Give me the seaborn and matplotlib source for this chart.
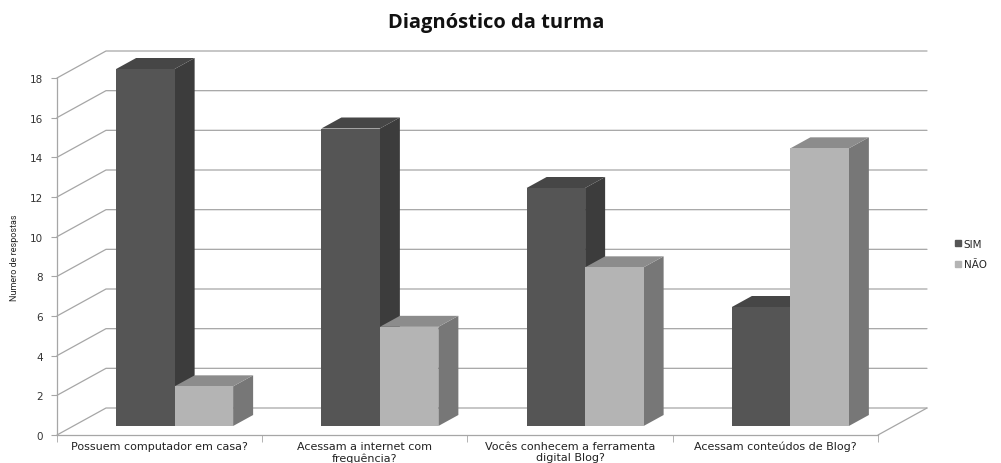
import numpy as np
import pandas as pd
import seaborn as sns
import matplotlib.pyplot as plt
from matplotlib.patches import Polygon
from matplotlib.lines import Line2D

sns.set_style('white')

# data
perguntas = ['Possuem computador em casa?',
             'Acessam a internet com\nfrequência?',
             'Vocês conhecem a ferramenta\ndigital Blog?',
             'Acessam conteúdos de Blog?']
sim = [18, 15, 12, 6]
nao = [2, 5, 8, 14]
yticks = [0, 2, 4, 6, 8, 10, 12, 14, 16, 18]

df = pd.DataFrame({
    'pergunta': perguntas * 2,
    'valor': sim + nao,
    'resposta': ['SIM'] * 4 + ['NÃO'] * 4,
})

front = {'SIM': '#555555', 'NÃO': '#b4b4b4'}
side = {'SIM': '#3c3c3c', 'NÃO': '#777777'}
top = {'SIM': '#464646', 'NÃO': '#8c8c8c'}
grid_c = '#a6a6a6'

W, H = 1001, 464
fig = plt.figure(figsize=(W / 100, H / 100), dpi=100)
ax = fig.add_axes([57 / W, (H - 436) / H, 821 / W, 357 / H])

sns.barplot(data=df, x='pergunta', y='valor', hue='resposta', palette=front,
            width=0.57, gap=0, ax=ax, legend=False, saturation=1)
ax.set_xlim(-0.5, 3.5)
ax.set_ylim(0, 18)

# pixel -> data conversions for the fake 3d look
px_x = 4 / 821
px_y = 18 / 357
dxw, dyw = 49 * px_x, 27 * px_y      # wall depth
dxb, dyb = 15 * px_x, 9 * px_y       # bar set back
dxs, dys = 20 * px_x, 11 * px_y      # bar depth

# walls + gridlines
for v in yticks:
    ax.plot([-0.5, -0.5 + dxw, 3.5 + dxw], [v, v + dyw, v + dyw],
            color=grid_c, lw=0.9, clip_on=False, zorder=1)
ax.plot([3.5, 3.5 + dxw], [0, dyw], color=grid_c, lw=0.9, clip_on=False, zorder=1)

for k, cont in enumerate(ax.containers):
    nome = ['SIM', 'NÃO'][k]
    for bar in cont:
        x0 = bar.get_x() + dxb
        w = bar.get_width()
        h = bar.get_height()
        bar.set_x(x0)
        bar.set_y(dyb)
        bar.set_edgecolor('none')
        bar.set_zorder(3 + 2 * k + 1)
        bar.set_clip_on(False)
        y1 = dyb + h
        ax.add_patch(Polygon([[x0 + w, dyb], [x0 + w + dxs, dyb + dys],
                              [x0 + w + dxs, y1 + dys], [x0 + w, y1]],
                             closed=True, facecolor=side[nome], edgecolor='none',
                             zorder=3 + 2 * k, clip_on=False))
        ax.add_patch(Polygon([[x0, y1], [x0 + w, y1], [x0 + w + dxs, y1 + dys],
                              [x0 + dxs, y1 + dys]],
                             closed=True, facecolor=top[nome], edgecolor='none',
                             zorder=3 + 2 * k, clip_on=False))

sns.despine(ax=ax, top=True, right=True)
ax.spines['left'].set_color(grid_c)
ax.spines['bottom'].set_color(grid_c)
ax.spines['left'].set_linewidth(0.9)
ax.spines['bottom'].set_linewidth(0.9)

ax.set_yticks(yticks)
ax.set_yticklabels([str(v) for v in yticks], fontsize=7.5, color='#333333')
ax.tick_params(axis='y', length=4, color=grid_c, pad=6, left=True)
ax.set_xticks(range(4))
ax.set_xticklabels(perguntas, fontsize=8, color='#222222', linespacing=1.2)
ax.tick_params(axis='x', length=0, pad=4)
ax.set_xticks([-0.5, 0.5, 1.5, 2.5, 3.5], minor=True)
ax.tick_params(axis='x', which='minor', length=5, color=grid_c, bottom=True)

ax.set_xlabel('')
ax.set_ylabel('Numero de respostas', fontsize=6.5, family='Roboto', labelpad=8)

fig.text(496 / W, 1 - 23 / H, 'Diagnóstico da turma', ha='center', va='center',
         fontsize=14.5, fontweight='bold', family='Open Sans', color='#111111')

handles = [Line2D([], [], marker='s', ls='none', markersize=5, color=front[n])
           for n in ['SIM', 'NÃO']]
fig.legend(handles, ['SIM', 'NÃO'], loc='center left',
           bbox_to_anchor=(949 / W, 1 - 255 / H), frameon=False, fontsize=7.5,
           handletextpad=0.1, labelspacing=1.0, handlelength=0.8, borderpad=0)

plt.savefig('out.png', dpi=100)
